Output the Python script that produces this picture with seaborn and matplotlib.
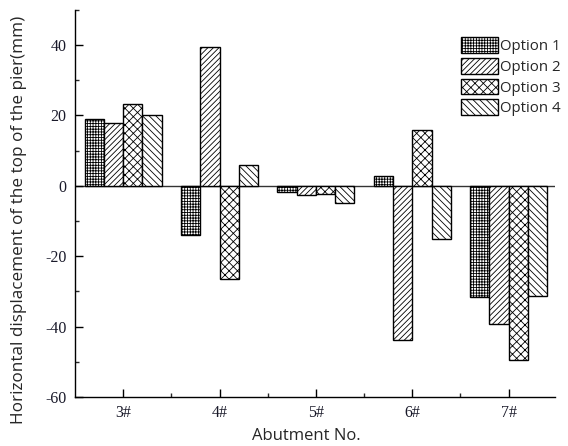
import matplotlib
matplotlib.use("Agg")
import matplotlib.pyplot as plt
import seaborn as sns
import pandas as pd
from matplotlib.ticker import MultipleLocator, FixedLocator

categories = ["3#", "4#", "5#", "6#", "7#"]
options = ["Option 1", "Option 2", "Option 3", "Option 4"]
option1 = [19.1, -13.9, -1.9, 2.8, -31.5]
option2 = [17.9, 39.3, -2.6, -43.7, -39.4]
option3 = [23.1, -26.4, -2.3, 15.8, -49.5]
option4 = [20.0, 5.9, -4.9, -15.1, -31.2]

rows = []
for opt, vals in zip(options, [option1, option2, option3, option4]):
    for c, v in zip(categories, vals):
        rows.append({"Abutment": c, "Option": opt, "Value": v})
df = pd.DataFrame(rows)

sns.set_style("ticks")
plt.rcParams["hatch.linewidth"] = 0.6
plt.rcParams["hatch.color"] = "black"
plt.rcParams["axes.unicode_minus"] = False

fig = plt.figure(figsize=(5.68, 4.46), dpi=100)
ax = fig.add_axes([0.132, 0.110, 0.845, 0.868])

sns.barplot(data=df, x="Abutment", y="Value", hue="Option", order=categories,
            hue_order=options, width=0.8, gap=0, errorbar=None, ax=ax,
            palette=["white"] * 4, edgecolor="black", linewidth=1.0,
            legend=False)

hatches = ["++++++", "//////", "xxxx", "\\\\\\\\\\"]
handles = []
for cont, h in zip(ax.containers, hatches):
    for p in cont.patches:
        p.set_hatch(h)
        p.set_facecolor("white")
        p.set_edgecolor("black")
    handles.append(cont.patches[0])

ax.legend(handles, options, loc="upper left", bbox_to_anchor=(0.792, 0.945),
          frameon=False, handlelength=2.45, handleheight=1.25,
          handletextpad=0.15, labelspacing=0.25, borderaxespad=0,
          prop={"family": "Open Sans", "size": 10.8})

ax.axhline(0, color="#333333", linewidth=1.0, zorder=0.5)
ax.set_ylim(-60, 50)
ax.set_xlim(-0.5, 4.48)
ax.yaxis.set_major_locator(MultipleLocator(20))
ax.yaxis.set_minor_locator(MultipleLocator(10))
ax.xaxis.set_minor_locator(FixedLocator([0.5, 1.5, 2.5, 3.5, 4.5]))
ax.tick_params(axis="both", which="major", direction="in", length=6, width=1, colors="black")
ax.tick_params(axis="both", which="minor", direction="in", length=3, width=1)
ax.tick_params(axis="x", which="major", pad=6)
ax.tick_params(axis="y", which="major", pad=6)
for lbl in ax.get_xticklabels() + ax.get_yticklabels():
    lbl.set_fontfamily("Liberation Serif")
    lbl.set_fontsize(11.5)
    lbl.set_color("#1a1a2a")

sns.despine(ax=ax, top=True, right=True)
for s in ["left", "bottom"]:
    ax.spines[s].set_linewidth(1.0)
    ax.spines[s].set_color("black")

ax.set_xlabel("Abutment No.", family="Open Sans", fontsize=12)
ax.set_ylabel("Horizontal displacement of the top of the pier(mm)", family="Open Sans",
              fontsize=12.3)
ax.xaxis.set_label_coords(0.481, -0.080)
ax.yaxis.set_label_coords(-0.100, 0.457)

fig.savefig("out.png", dpi=100)
